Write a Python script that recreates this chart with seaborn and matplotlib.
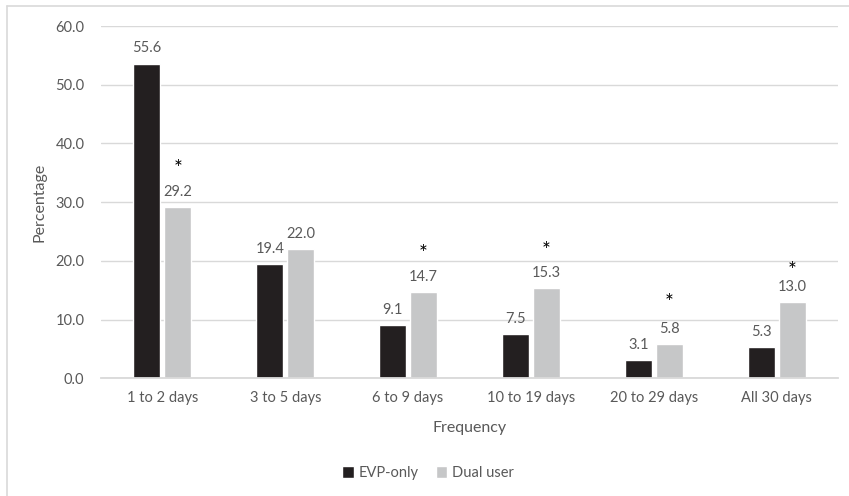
import numpy as np
import pandas as pd
import matplotlib
matplotlib.use("Agg")
import matplotlib.pyplot as plt
import seaborn as sns
from matplotlib.lines import Line2D

# values
frequency = ["1 to 2 days", "3 to 5 days", "6 to 9 days",
             "10 to 19 days", "20 to 29 days", "All 30 days"]
evp_only = [53.6, 19.4, 9.1, 7.5, 3.1, 5.3]      # drawn bar heights
dual_user = [29.2, 22.0, 14.7, 15.3, 5.8, 13.0]
evp_labels = ["55.6", "19.4", "9.1", "7.5", "3.1", "5.3"]
dual_labels = ["29.2", "22.0", "14.7", "15.3", "5.8", "13.0"]
# asterisk heights above the dual user bars (None = no asterisk)
star_dual = [35.7, None, 21.2, 21.6, 12.8, 18.2]

groups = ["EVP-only", "Dual user"]
colors = ["#231F20", "#C6C7C8"]
text_gray = "#595959"

df = pd.DataFrame({
    "Frequency": frequency * 2,
    "Group": [groups[0]] * len(frequency) + [groups[1]] * len(frequency),
    "Percentage": evp_only + dual_user,
})

sns.set_style("white")
plt.rcParams["font.family"] = ["Lato", "DejaVu Sans"]

fig = plt.figure(figsize=(8.49, 4.96), dpi=100)
ax = fig.add_axes([101 / 849, 1 - 378.3 / 496, 737 / 849, (378.3 - 26) / 496])

sns.barplot(data=df, x="Frequency", y="Percentage", hue="Group",
            palette=colors, width=0.505, gap=0.13, ax=ax, legend=True,
            saturation=1)

ax.set_ylim(0, 60)
ax.set_yticks(np.arange(0, 61, 10))
ax.set_yticklabels([f"{v:.1f}" for v in np.arange(0, 61, 10)])
ax.yaxis.grid(True, color="#D9D9D9", linewidth=1)
ax.set_axisbelow(True)
for s in ["left", "right", "top"]:
    ax.spines[s].set_visible(False)
ax.spines["bottom"].set_color("#D9D9D9")
ax.spines["bottom"].set_linewidth(1.3)
ax.tick_params(axis="both", length=0, colors=text_gray, labelsize=10.5)
ax.tick_params(axis="x", pad=9)
ax.tick_params(axis="y", pad=12)
ax.set_xlabel("Frequency", color=text_gray, fontsize=11.5, labelpad=12)
ax.set_ylabel("Percentage", color=text_gray, fontsize=11.5, labelpad=6)

# value labels
for cont, labs in zip(ax.containers, [evp_labels, dual_labels]):
    ax.bar_label(cont, labels=labs, padding=6, color=text_gray, fontsize=10.5)

# asterisks
dual_bars = ax.containers[1]
for bar, sy in zip(dual_bars, star_dual):
    if sy is not None:
        ax.text(bar.get_x() + bar.get_width() / 2, sy, "*", ha="center",
                va="center", fontsize=15, color="black")

leg = ax.legend(loc="center", bbox_to_anchor=(428 / 849, 1 - 473 / 496),
                bbox_transform=fig.transFigure, ncol=2, frameon=False,
                handlelength=0.8, handleheight=0.8, handletextpad=0.3,
                columnspacing=1.2, fontsize=10.5)
for t in leg.get_texts():
    t.set_color(text_gray)

# chart frame (left and top edges visible)
fig.add_artist(Line2D([7 / 849, 7 / 849], [0, 1 - 6 / 496], color="#D9D9D9", lw=1.2))
fig.add_artist(Line2D([7 / 849, 1], [1 - 6 / 496, 1 - 6 / 496], color="#D9D9D9", lw=1.2))

fig.savefig("out.png", dpi=100)
